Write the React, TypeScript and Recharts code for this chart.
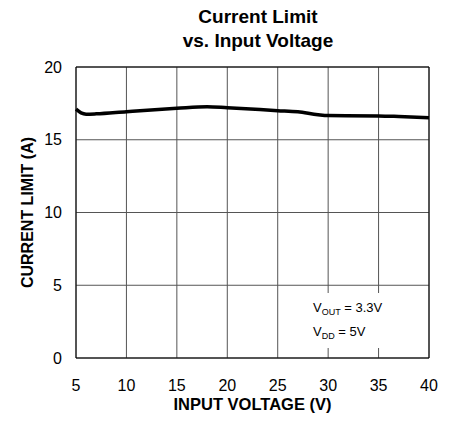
import { LineChart, Line, XAxis, YAxis, CartesianGrid, ReferenceLine, Label } from "recharts";

const inputVoltage = [5, 5.5, 6, 7, 10, 15, 18, 20, 25, 27, 29, 30, 35, 37, 40];
const currentLimit = [17.1, 16.85, 16.76, 16.78, 16.93, 17.16, 17.27, 17.2, 17.0, 16.92, 16.72, 16.66, 16.64, 16.6, 16.52];
const xTicks = [5, 10, 15, 20, 25, 30, 35, 40];
const yTicks = [0, 5, 10, 15, 20];

const data = inputVoltage.map((v, i) => ({ v, a: currentLimit[i] }));

const font = "'Liberation Sans', Arial, sans-serif";
const tickStyle = { fontSize: 16, fill: "#000", fontFamily: font };

export default function App() {
  return (
    <div style={{ position: "absolute", left: 0, top: 0, width: 454, height: 435, background: "#fff" }}>
      <svg width={454} height={60} style={{ position: "absolute", left: 0, top: 0 }}>
        <text x={258} y={23} textAnchor="middle" fontFamily={font} fontWeight="bold" fontSize={19}>
          Current Limit
        </text>
        <text x={258} y={47} textAnchor="middle" fontFamily={font} fontWeight="bold" fontSize={19}>
          vs. Input Voltage
        </text>
      </svg>
      <div style={{ position: "absolute", left: 0, top: 0 }}>
        <LineChart width={454} height={435} data={data} margin={{ top: 67, right: 25, left: 0, bottom: 0 }}>
          <CartesianGrid stroke="#555" strokeWidth={1} />
          <XAxis
            dataKey="v"
            type="number"
            domain={[5, 40]}
            ticks={xTicks}
            tick={tickStyle}
            tickLine={false}
            tickSize={20}
            tickMargin={2}
            axisLine={{ stroke: "#000" }}
            height={77}
          >
            <Label
              value="INPUT VOLTAGE (V)"
              position="insideBottom"
              offset={25}
              style={{ fontSize: 16.5, fontWeight: "bold", fill: "#000", fontFamily: font }}
            />
          </XAxis>
          <YAxis
            type="number"
            domain={[0, 20]}
            ticks={yTicks}
            tick={tickStyle}
            tickLine={false}
            tickSize={12}
            tickMargin={2}
            axisLine={{ stroke: "#000" }}
            width={76}
          >
            <Label
              value="CURRENT LIMIT (A)"
              angle={-90}
              position="insideLeft"
              offset={27}
              style={{ fontSize: 16, fontWeight: "bold", fill: "#000", fontFamily: font, textAnchor: "middle" }}
            />
          </YAxis>
          <ReferenceLine y={20} stroke="#000" />
          <ReferenceLine x={40} stroke="#000" />
          <Line
            type="monotone"
            dataKey="a"
            stroke="#000"
            strokeWidth={3.5}
            dot={false}
            isAnimationActive={false}
          />
        </LineChart>
      </div>
      <svg width={454} height={435} style={{ position: "absolute", left: 0, top: 0, pointerEvents: "none" }}>
        <rect x={305} y={293} width={95} height={55} fill="#fff" />
        <text x={313} y={312} fontFamily={font} fontSize={13}>
          V<tspan fontSize={9} dy={3}>OUT</tspan>
          <tspan dy={-3}> = 3.3V</tspan>
        </text>
        <text x={313} y={336} fontFamily={font} fontSize={13}>
          V<tspan fontSize={9} dy={3}>DD</tspan>
          <tspan dy={-3}> = 5V</tspan>
        </text>
      </svg>
    </div>
  );
}
